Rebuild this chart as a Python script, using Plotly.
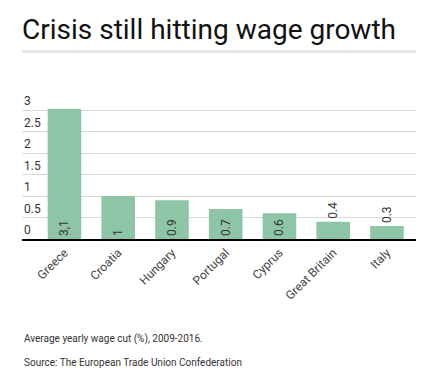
import plotly.graph_objects as go

countries = ["Greece", "Croatia", "Hungary", "Portugal", "Cyprus", "Great Britain", "Italy"]
wage_cut = [3.1, 1.0, 0.9, 0.7, 0.6, 0.4, 0.3]
value_labels = ["3,1", "1", "0.9", "0.7", "0.6", "0.4", "0.3"]
label_positions = ["inside", "inside", "inside", "inside", "inside", "outside", "outside"]
y_ticks = [0, 0.5, 1, 1.5, 2, 2.5, 3]
y_tick_labels = ["0", "0.5", "1", "1.5", "2", "2.5", "3"]

W, H = 436, 385
L, R, T, B = 22, 20, 109, 146
plot_h = H - T - B
FONT = "Roboto, Arial, sans-serif"

def py(px):
    return (H - B - px) / plot_h

fig = go.Figure(go.Bar(
    x=countries, y=wage_cut,
    marker=dict(color="#8dc5a6", line=dict(width=0)),
    width=0.625,
    text=value_labels, textposition=label_positions,
    insidetextanchor="start", textangle=-90,
    textfont=dict(family=FONT, size=12, color="#333333"),
    constraintext="none", cliponaxis=True,
))

tick_annotations = [
    dict(text=lab, xref="paper", yref="y", x=0, y=v, xanchor="left", yanchor="bottom",
         yshift=0, showarrow=False, font=dict(family=FONT, size=12, color="#333333"))
    for v, lab in zip(y_ticks, y_tick_labels)
]

fig.update_layout(
    width=W, height=H,
    margin=dict(l=L, r=R, t=T, b=B),
    paper_bgcolor="white", plot_bgcolor="white",
    showlegend=False,
    font=dict(family=FONT, color="#333333"),
    title=dict(text="Crisis still hitting wage growth",
               font=dict(family=FONT, size=28, color="#111111"),
               xref="container", yref="container",
               x=22 / W, xanchor="left", y=1 - 29 / H, yanchor="middle"),
    xaxis=dict(range=[-0.79, 6.54], showgrid=False, showline=True,
               linecolor="black", linewidth=2, ticks="", tickangle=-45,
               tickfont=dict(size=12, color="#444444")),
    yaxis=dict(range=[0, 3.025], tickvals=y_ticks,
               showgrid=True, gridcolor="#d9d9d9", gridwidth=1,
               zeroline=False, ticks="", showticklabels=False),
    shapes=[dict(type="line", xref="paper", yref="paper", x0=0, x1=1,
                 y0=py(51.5), y1=py(51.5), line=dict(color="#e6e6e6", width=3))],
    annotations=tick_annotations + [
        dict(text="Average yearly wage cut (%), 2009-2016.", xref="paper", yref="paper",
             x=0, y=py(339), xanchor="left", yanchor="middle", showarrow=False,
             font=dict(family=FONT, size=10, color="#333333")),
        dict(text="Source: The European Trade Union Confederation", xref="paper", yref="paper",
             x=0, y=py(362), xanchor="left", yanchor="middle", showarrow=False,
             font=dict(family=FONT, size=10, color="#333333")),
    ],
)

fig.write_html("out.html", config={"displayModeBar": False},
               post_script="document.body.style.margin='0';")
